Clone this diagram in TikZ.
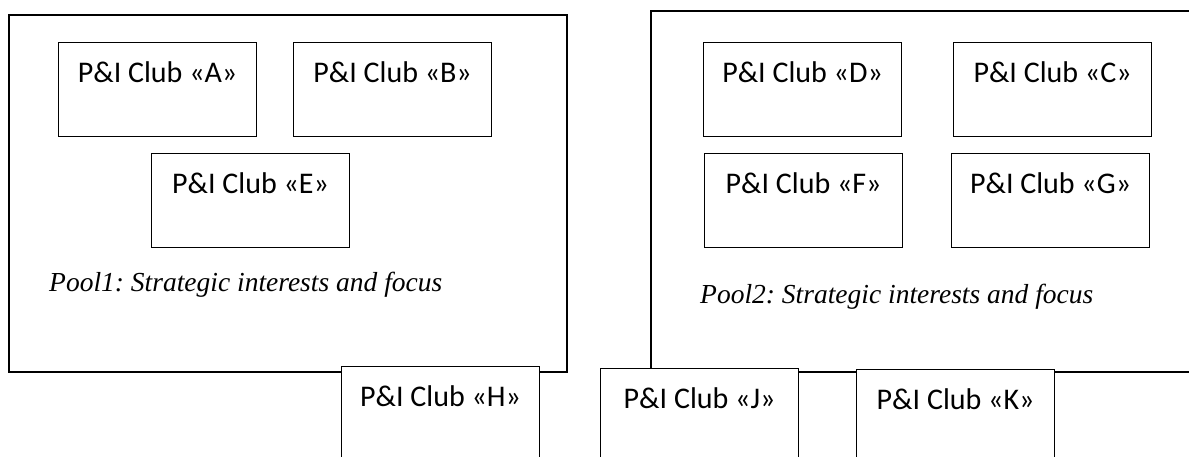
\documentclass[tikz,border=0pt]{standalone}
\usepackage{fontspec}
\newfontfamily\clubfont{Carlito}
\newfontfamily\poolfont{Liberation Serif}
\frenchspacing
\begin{document}
\begin{tikzpicture}[x=1pt,y=-1pt,
  frame/.style={draw=black,line width=1.2pt},
  club/.style={draw=black,line width=1.2pt,fill=white,anchor=north west,
    minimum width=198pt,inner xsep=0pt,inner ysep=0pt,
    text height=40pt,text depth=54pt,
    font=\clubfont\fontsize{30}{36}\selectfont},
  clublow/.style={club,text height=40pt,text depth=90pt},
  pooltext/.style={anchor=base west,inner sep=0pt,
    font=\poolfont\itshape\fontsize{27.5}{33}\selectfont}]
\useasboundingbox (0,0) rectangle (1189,457);
\clip (0,0) rectangle (1189,457);
% pools
\draw[frame] (9,15) rectangle (567,372);
\draw[frame] (651,11) rectangle (1210,372);
% pool 1 clubs
\node[club] (A) at (58,42) {P\&I Club «A»};
\node[club] (B) at (293,42) {P\&I Club «B»};
\node[club] (E) at (151,153) {P\&I Club «E»};
\node[pooltext] (p1) at (49,291) {Pool1: Strategic interests and focus};
% pool 2 clubs
\node[club] (D) at (703,42) {P\&I Club «D»};
\node[club] (C) at (953,42) {P\&I Club «C»};
\node[club] (F) at (704,153) {P\&I Club «F»};
\node[club] (G) at (951,153) {P\&I Club «G»};
\node[pooltext] (p2) at (700,303) {Pool2: Strategic interests and focus};
% outside clubs
\node[clublow] (H) at (341,366) {P\&I Club «H»};
\node[clublow] (J) at (600,368) {P\&I Club «J»};
\node[clublow] (K) at (856,369) {P\&I Club «K»};
\end{tikzpicture}
\end{document}
